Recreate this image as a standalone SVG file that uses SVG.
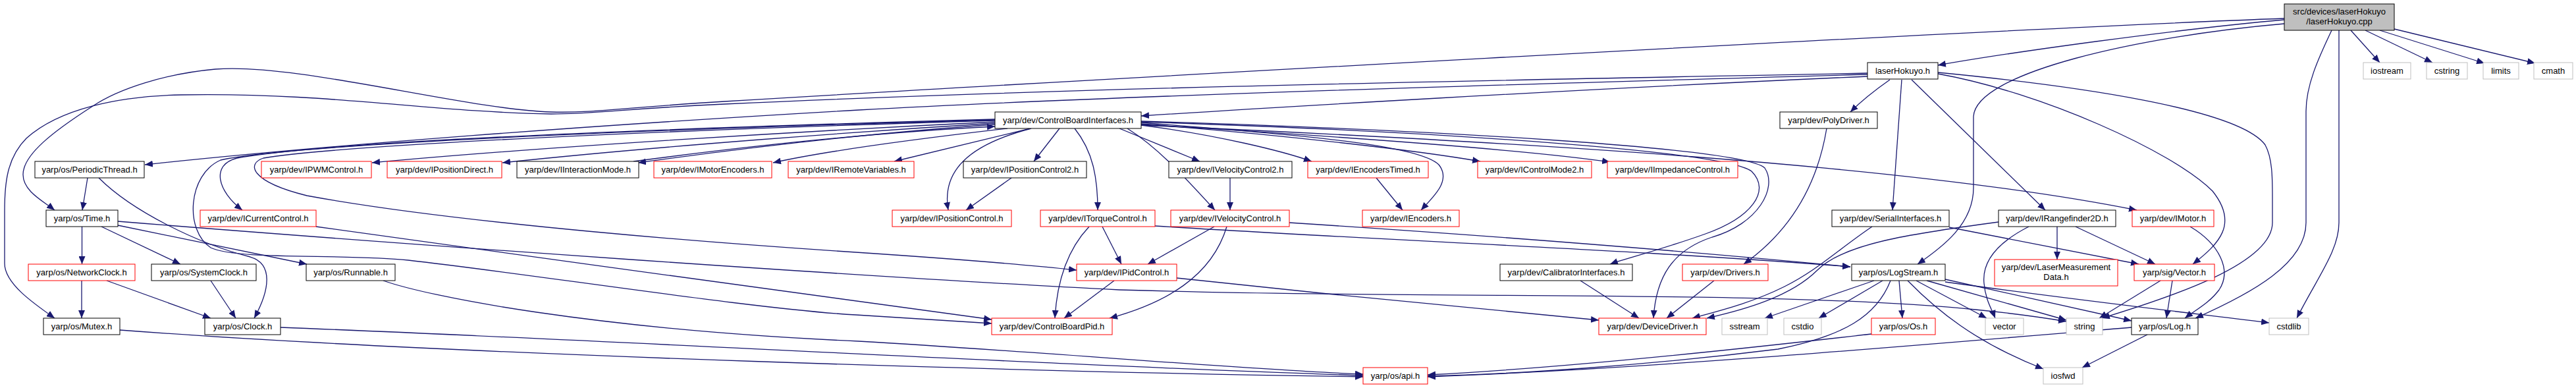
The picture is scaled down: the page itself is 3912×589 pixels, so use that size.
<svg xmlns="http://www.w3.org/2000/svg" width="3912" height="589" viewBox="0 0 3912 589">
<style>
.n rect{fill:#fff;stroke:#000;stroke-width:1}
.n.r rect{stroke:#ff0000}
.n.g rect{stroke:#bfbfbf}
.n.top rect{fill:#bfbfbf;stroke:#000}
.n text{font-family:"Liberation Sans",Arial,sans-serif;font-size:13px;text-anchor:middle;fill:#000}
#edges path{fill:none;stroke:#191970;stroke-width:1.3;marker-end:url(#a)}
</style>
<defs>
<marker id="a" markerUnits="userSpaceOnUse" markerWidth="12" markerHeight="10" refX="12" refY="5" orient="auto">
<path d="M0,0 L12,5 L0,10 z" fill="#191970"/>
</marker>
</defs>
<rect width="3912" height="589" fill="#fff"/>
<g id="edges">
<path d="M3570,46 L3614,95"/>
<path d="M3592,46 L3694,95"/>
<path d="M3614,46 L3773,96"/>
<path d="M3636,44 L3850,96"/>
<path d="M3552,46 L3552,338 C3552,380 3520,420 3488,483"/>
<path d="M3541,46 C3520,90 3502,130 3502,169 L3502,338 C3502,400 3420,445 3334,483"/>
<path d="M3469,30 C3300,45 3050,80 2943,99"/>
<path d="M3469,36 C3250,55 3000,110 2997,177 L2997,285 C2997,340 2950,375 2912,401"/>
<path d="M3469,28 C3000,45 1500,130 1100,154 C950,163 900,172 837,170 C700,165 450,95 327,105 C250,112 180,135 141,161 C80,200 35,235 35,265 C35,290 65,305 83,319"/>
<path d="M2836,111 C2400,120 1700,130 1100,158 C950,165 900,173 837,173 C650,170 500,140 275,144 C180,146 90,165 40,210 C10,240 7,280 7,320 L7,400 C7,430 50,460 83,483"/>
<path d="M2836,113 C2300,128 1700,145 1304,167 C900,190 500,220 220,250"/>
<path d="M2836,116 C2400,135 1900,165 1733,176"/>
<path d="M2870,121 C2850,135 2825,155 2810,170"/>
<path d="M2888,121 L2874,319"/>
<path d="M2903,121 L3106,319"/>
<path d="M2943,112 C3100,140 3300,230 3360,290 C3400,340 3370,370 3330,401"/>
<path d="M2943,110 C3150,130 3400,165 3440,220 C3451,240 3451,270 3451,300 L3451,338 C3451,400 3300,450 3192,483"/>
<path d="M1511,181 C1000,195 500,215 360,240 C320,250 330,290 368,319"/>
<path d="M1511,185 C1200,200 800,225 565,247"/>
<path d="M1511,187 C1300,200 1000,222 763,247"/>
<path d="M1511,189 C1350,200 1150,222 969,247"/>
<path d="M962,245 C1150,220 1350,200 1511,192"/>
<path d="M1530,195 C1400,210 1250,230 1174,247"/>
<path d="M1565,195 L1358,245"/>
<path d="M1609,195 L1570,245"/>
<path d="M1566,195 C1470,220 1430,260 1440,319"/>
<path d="M1632,195 C1660,230 1667,270 1667,319"/>
<path d="M1700,195 L1822,245"/>
<path d="M1712,195 C1760,225 1800,270 1845,319"/>
<path d="M1733,190 C1850,205 1950,230 1992,245"/>
<path d="M1733,186 C1900,200 2150,215 2185,250 C2205,275 2175,300 2158,319"/>
<path d="M1733,188 C1950,205 2150,228 2248,245"/>
<path d="M1733,189 C2000,205 2300,225 2445,246"/>
<path d="M1733,190 C2300,215 2900,250 3245,319"/>
<path d="M1733,185 C2200,200 2620,230 2660,260 C2690,290 2660,330 2590,355 C2520,380 2470,392 2445,401"/>
<path d="M1733,184 C2200,198 2650,225 2680,255 C2700,285 2670,340 2600,360 C2540,380 2515,420 2511,483"/>
<path d="M1511,183 C1000,198 520,220 400,240 C375,248 378,275 466,297 C700,340 1100,370 1300,383 C1450,393 1560,402 1635,410"/>
<path d="M1511,182 C1000,196 450,218 335,243 C285,265 280,350 320,376 C360,395 520,385 620,395 C800,415 1150,470 1300,478 C1400,484 1460,488 1506,491"/>
<path d="M133,270 L125,319"/>
<path d="M150,270 C200,320 300,370 380,390 C415,400 410,440 386,483"/>
<path d="M124.5,344 L124.5,401"/>
<path d="M154,344 L274,401"/>
<path d="M179,342 L466,401"/>
<path d="M179,336 C600,370 1300,420 1700,440 C2200,455 2700,440 3000,470 C3080,478 3120,485 3138,488"/>
<path d="M124,426 L124,483"/>
<path d="M162,426 L320,483"/>
<path d="M320,426 L358,483"/>
<path d="M182,501 C700,540 1600,565 2070,572"/>
<path d="M426,497 C900,515 1600,555 2070,570"/>
<path d="M582,426 C650,450 900,500 1304,518 C1600,535 1900,562 2070,568"/>
<path d="M480,344 C800,390 1300,455 1506,485"/>
<path d="M1654,344 C1620,380 1605,430 1602,483"/>
<path d="M1674,344 L1703,401"/>
<path d="M1754,343 C2100,365 2500,380 2810,405"/>
<path d="M1958,338 C2300,360 2600,385 2810,405"/>
<path d="M1844,344 L1743,401"/>
<path d="M1863,344 C1840,420 1770,460 1685,483"/>
<path d="M1692,426 L1616,483"/>
<path d="M1787,422 C2000,445 2300,475 2428,486"/>
<path d="M1536,270 L1467,319"/>
<path d="M1868,270 L1868,319"/>
<path d="M2090,270 L2130,319"/>
<path d="M2774,195 C2760,280 2720,350 2648,401"/>
<path d="M2603,426 L2531,483"/>
<path d="M2400,426 L2489,483"/>
<path d="M2843,344 C2790,380 2760,410 2710,435 C2660,460 2610,472 2570,483"/>
<path d="M3035,337 C2900,355 2800,370 2760,410 C2720,450 2650,470 2592,483"/>
<path d="M2960,345 L3248,401"/>
<path d="M3124,344 L3124,394"/>
<path d="M3152,344 L3273,401"/>
<path d="M3081,344 C3030,370 3010,400 3013,430 C3015,455 3025,470 3030,483"/>
<path d="M3326,344 C3370,370 3390,410 3370,440 C3355,460 3335,470 3318,483"/>
<path d="M3281,426 L3188,483"/>
<path d="M3299,426 L3290,483"/>
<path d="M2884,426 L2889,483"/>
<path d="M2846,426 L2680,483"/>
<path d="M2859,426 L2762,483"/>
<path d="M2910,426 L3017,483"/>
<path d="M2926,426 L3138,486"/>
<path d="M2954,424 L3237,487"/>
<path d="M2954,428 C3150,455 3350,478 3446,490"/>
<path d="M2897,426 C2940,470 3000,520 3103,560"/>
<path d="M2871,426 C2850,480 2800,510 2700,530 C2500,555 2300,568 2168,571"/>
<path d="M2842,507 C2600,535 2350,560 2168,569"/>
<path d="M3237,497 C2900,525 2500,560 2168,572"/>
<path d="M3261,508 L3162,558"/>
</g>
<g id="n_cpp" class="n top"><rect x="3469" y="6" width="167" height="40"/><text x="3552.5" y="22">src/devices/laserHokuyo</text><text x="3552.5" y="37">/laserHokuyo.cpp</text></g>
<g id="n_lh" class="n"><rect x="2836" y="95" width="107" height="25"/><text x="2889.5" y="112">laserHokuyo.h</text></g>
<g id="n_iostream" class="n g"><rect x="3589" y="95" width="72" height="25"/><text x="3625" y="112">iostream</text></g>
<g id="n_cstring" class="n g"><rect x="3685" y="95" width="62" height="25"/><text x="3716" y="112">cstring</text></g>
<g id="n_limits" class="n g"><rect x="3771" y="95" width="54" height="25"/><text x="3798" y="112">limits</text></g>
<g id="n_cmath" class="n g"><rect x="3848" y="95" width="59" height="25"/><text x="3877.5" y="112">cmath</text></g>
<g id="n_cbi" class="n"><rect x="1511" y="170" width="222" height="25"/><text x="1622" y="187">yarp/dev/ControlBoardInterfaces.h</text></g>
<g id="n_polydriver" class="n"><rect x="2703" y="170" width="148" height="25"/><text x="2777" y="187">yarp/dev/PolyDriver.h</text></g>
<g id="n_periodicthread" class="n"><rect x="53" y="245" width="166" height="25"/><text x="136" y="262">yarp/os/PeriodicThread.h</text></g>
<g id="n_ipwm" class="n r"><rect x="397" y="245" width="167" height="25"/><text x="480.5" y="262">yarp/dev/IPWMControl.h</text></g>
<g id="n_iposdirect" class="n r"><rect x="588" y="245" width="174" height="25"/><text x="675" y="262">yarp/dev/IPositionDirect.h</text></g>
<g id="n_iinteraction" class="n"><rect x="785" y="245" width="185" height="25"/><text x="877.5" y="262">yarp/dev/IInteractionMode.h</text></g>
<g id="n_imotorenc" class="n r"><rect x="993" y="245" width="179" height="25"/><text x="1082.5" y="262">yarp/dev/IMotorEncoders.h</text></g>
<g id="n_iremote" class="n r"><rect x="1197" y="245" width="191" height="25"/><text x="1292.5" y="262">yarp/dev/IRemoteVariables.h</text></g>
<g id="n_ipos2" class="n"><rect x="1463" y="245" width="187" height="25"/><text x="1556.5" y="262">yarp/dev/IPositionControl2.h</text></g>
<g id="n_ivel2" class="n"><rect x="1775" y="245" width="187" height="25"/><text x="1868.5" y="262">yarp/dev/IVelocityControl2.h</text></g>
<g id="n_ienctimed" class="n r"><rect x="1986" y="245" width="183" height="25"/><text x="2077.5" y="262">yarp/dev/IEncodersTimed.h</text></g>
<g id="n_icm2" class="n r"><rect x="2244" y="245" width="173" height="25"/><text x="2330.5" y="262">yarp/dev/IControlMode2.h</text></g>
<g id="n_iimp" class="n r"><rect x="2441" y="245" width="198" height="25"/><text x="2540" y="262">yarp/dev/IImpedanceControl.h</text></g>
<g id="n_time" class="n"><rect x="70" y="319" width="109" height="25"/><text x="124.5" y="336">yarp/os/Time.h</text></g>
<g id="n_icurrent" class="n r"><rect x="304" y="319" width="176" height="25"/><text x="392" y="336">yarp/dev/ICurrentControl.h</text></g>
<g id="n_ipos" class="n r"><rect x="1355" y="319" width="181" height="25"/><text x="1445.5" y="336">yarp/dev/IPositionControl.h</text></g>
<g id="n_itorque" class="n r"><rect x="1580" y="319" width="174" height="25"/><text x="1667" y="336">yarp/dev/ITorqueControl.h</text></g>
<g id="n_ivel" class="n r"><rect x="1778" y="319" width="180" height="25"/><text x="1868" y="336">yarp/dev/IVelocityControl.h</text></g>
<g id="n_ienc" class="n r"><rect x="2069" y="319" width="147" height="25"/><text x="2142.5" y="336">yarp/dev/IEncoders.h</text></g>
<g id="n_serial" class="n"><rect x="2782" y="319" width="178" height="25"/><text x="2871" y="336">yarp/dev/SerialInterfaces.h</text></g>
<g id="n_irange" class="n"><rect x="3035" y="319" width="178" height="25"/><text x="3124" y="336">yarp/dev/IRangefinder2D.h</text></g>
<g id="n_imotor" class="n r"><rect x="3238" y="319" width="124" height="25"/><text x="3300" y="336">yarp/dev/IMotor.h</text></g>
<g id="n_netclock" class="n r"><rect x="43" y="401" width="162" height="25"/><text x="124" y="418">yarp/os/NetworkClock.h</text></g>
<g id="n_sysclock" class="n"><rect x="230" y="401" width="159" height="25"/><text x="309.5" y="418">yarp/os/SystemClock.h</text></g>
<g id="n_runnable" class="n"><rect x="465" y="401" width="135" height="25"/><text x="532.5" y="418">yarp/os/Runnable.h</text></g>
<g id="n_ipid" class="n r"><rect x="1635" y="401" width="152" height="25"/><text x="1711" y="418">yarp/dev/IPidControl.h</text></g>
<g id="n_calib" class="n"><rect x="2278" y="401" width="201" height="25"/><text x="2378.5" y="418">yarp/dev/CalibratorInterfaces.h</text></g>
<g id="n_drivers" class="n r"><rect x="2555" y="401" width="130" height="25"/><text x="2620" y="418">yarp/dev/Drivers.h</text></g>
<g id="n_logstream" class="n"><rect x="2812" y="401" width="142" height="25"/><text x="2883" y="418">yarp/os/LogStream.h</text></g>
<g id="n_lmd" class="n r"><rect x="3029" y="394" width="187" height="40"/><text x="3122.5" y="410">yarp/dev/LaserMeasurement</text><text x="3122.5" y="425">Data.h</text></g>
<g id="n_sigvector" class="n r"><rect x="3241" y="401" width="122" height="25"/><text x="3302" y="418">yarp/sig/Vector.h</text></g>
<g id="n_mutex" class="n"><rect x="66" y="483" width="116" height="25"/><text x="124" y="500">yarp/os/Mutex.h</text></g>
<g id="n_clock" class="n"><rect x="311" y="483" width="115" height="25"/><text x="368.5" y="500">yarp/os/Clock.h</text></g>
<g id="n_cbpid" class="n r"><rect x="1506" y="483" width="183" height="25"/><text x="1597.5" y="500">yarp/dev/ControlBoardPid.h</text></g>
<g id="n_devdriver" class="n r"><rect x="2428" y="483" width="163" height="25"/><text x="2509.5" y="500">yarp/dev/DeviceDriver.h</text></g>
<g id="n_sstream" class="n g"><rect x="2615" y="483" width="69" height="25"/><text x="2649.5" y="500">sstream</text></g>
<g id="n_cstdio" class="n g"><rect x="2709" y="483" width="57" height="25"/><text x="2737.5" y="500">cstdio</text></g>
<g id="n_os" class="n r"><rect x="2842" y="483" width="97" height="25"/><text x="2890.5" y="500">yarp/os/Os.h</text></g>
<g id="n_vector" class="n g"><rect x="3015" y="483" width="58" height="25"/><text x="3044" y="500">vector</text></g>
<g id="n_string" class="n g"><rect x="3138" y="483" width="55" height="25"/><text x="3165.5" y="500">string</text></g>
<g id="n_log" class="n"><rect x="3237" y="483" width="101" height="25"/><text x="3287.5" y="500">yarp/os/Log.h</text></g>
<g id="n_cstdlib" class="n g"><rect x="3446" y="483" width="60" height="25"/><text x="3476" y="500">cstdlib</text></g>
<g id="n_api" class="n r"><rect x="2070" y="558" width="98" height="25"/><text x="2119" y="575">yarp/os/api.h</text></g>
<g id="n_iosfwd" class="n g"><rect x="3103" y="558" width="60" height="25"/><text x="3133" y="575">iosfwd</text></g>
</svg>
